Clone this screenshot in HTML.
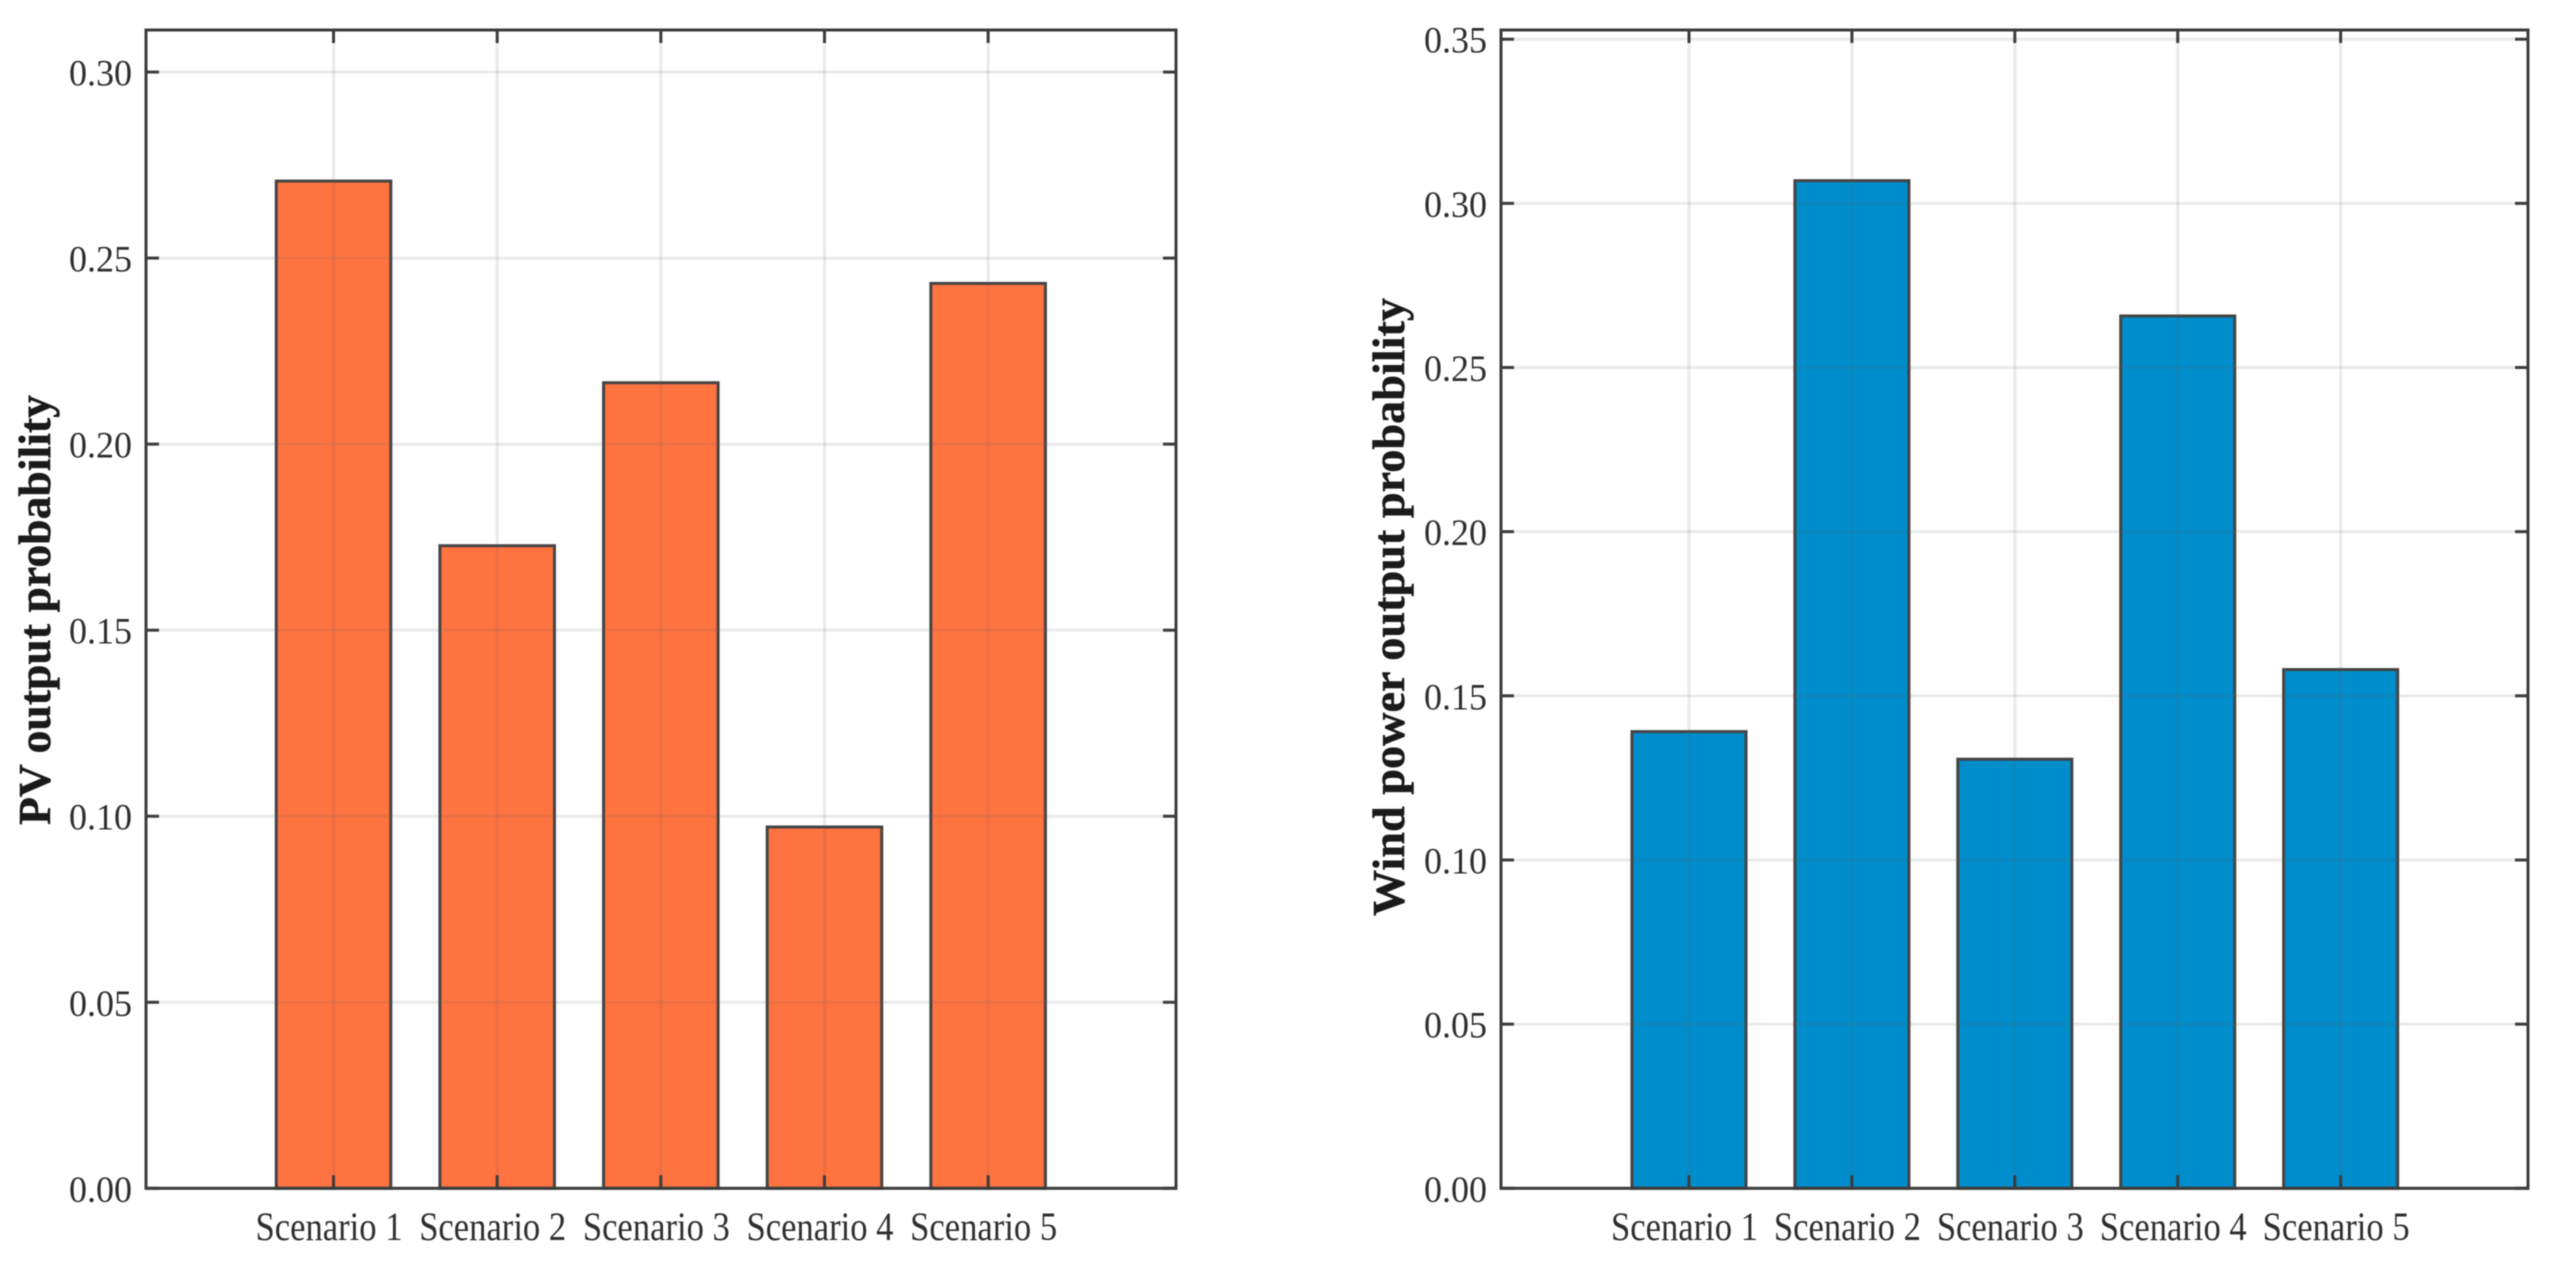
<!DOCTYPE html>
<html lang="en">
<head>
<meta charset="utf-8">
<title>PV and wind power output probability</title>
<style>
  html, body { margin: 0; padding: 0; background: #fff; }
  body { width: 2555px; height: 1265px; overflow: hidden; }
  svg { display: block; filter: blur(0.6px); }
  text { font-family: "Liberation Serif", "Times New Roman", serif; fill: #2e2e2e; }
</style>
</head>
<body>
<svg id="figure" xmlns="http://www.w3.org/2000/svg" width="2555" height="1265" viewBox="0 0 2555 1265"></svg>
<script>
const categories = ['Scenario 1', 'Scenario 2', 'Scenario 3', 'Scenario 4', 'Scenario 5'];
const pvValues = [0.2707, 0.1727, 0.2165, 0.0971, 0.2432];
const windValues = [0.1391, 0.3069, 0.1307, 0.2657, 0.1580];
const pvTicks = [0, 0.05, 0.10, 0.15, 0.20, 0.25, 0.30];
const windTicks = [0, 0.05, 0.10, 0.15, 0.20, 0.25, 0.30, 0.35];
const pvTickLabels = ['0.00', '0.05', '0.10', '0.15', '0.20', '0.25', '0.30'];
const windTickLabels = ['0.00', '0.05', '0.10', '0.15', '0.20', '0.25', '0.30', '0.35'];

const NS = 'http://www.w3.org/2000/svg';
const svg = document.getElementById('figure');
const gridStroke = 'rgba(90,90,90,0.13)';

function mk(tag, attrs, parent) {
  const el = document.createElementNS(NS, tag);
  for (const k in attrs) el.setAttribute(k, attrs[k]);
  parent.appendChild(el);
  return el;
}

function drawChart(o) {
  const g = mk('g', {}, svg);
  
  

  const xPos = function (v) { return o.left + (v - o.xMin) / (o.xMax - o.xMin) * (o.right - o.left); };
  const yPos = function (v) { return o.bottom - v / o.yMax * (o.bottom - o.top); };

  // bars
  o.values.forEach(function (v, i) {
    const cx = xPos(i + 1);
    const w = xPos(1.7) - xPos(1);
    const bar = mk('rect', { x: cx - w / 2, y: yPos(v), width: w, height: yPos(0) - yPos(v), fill: o.color, stroke: '#444', 'stroke-width': 3 }, g);
    
    
  });

  // grid lines (semi-transparent, drawn over bars)
  o.ticks.forEach(function (t) {
    const line = mk('line', { x1: o.left, x2: o.right, y1: yPos(t), y2: yPos(t), stroke: gridStroke, 'stroke-width': 3 }, g);
    
    
  });
  categories.forEach(function (c, i) {
    const line = mk('line', { x1: xPos(i + 1), x2: xPos(i + 1), y1: o.top, y2: o.bottom, stroke: gridStroke, 'stroke-width': 3 }, g);
    
    
  });

  // axes box
  const box = mk('rect', { x: o.left, y: o.top, width: o.right - o.left, height: o.bottom - o.top, fill: 'none', stroke: '#3c3c3c', 'stroke-width': 3 }, g);
  
  

  // y ticks and labels
  o.ticks.forEach(function (t, i) {
    const y = yPos(t);
    const tl = mk('line', { x1: o.left, x2: o.left + 13, y1: y, y2: y, stroke: '#3c3c3c', 'stroke-width': 3 }, g);
    
    
    const tr = mk('line', { x1: o.right, x2: o.right - 13, y1: y, y2: y, stroke: '#3c3c3c', 'stroke-width': 3 }, g);
    
    
    const label = mk('text', { x: o.left - 14, y: y + 13.5, 'font-size': 37, 'text-anchor': 'end', textLength: 63, lengthAdjust: 'spacingAndGlyphs' }, g);
    
    
    label.textContent = o.tickLabels[i];
  });

  // x ticks and labels
  categories.forEach(function (c, i) {
    const x = xPos(i + 1);
    const tb = mk('line', { x1: x, x2: x, y1: o.bottom, y2: o.bottom - 13, stroke: '#3c3c3c', 'stroke-width': 3 }, g);
    
    
    const tt = mk('line', { x1: x, x2: x, y1: o.top, y2: o.top + 13, stroke: '#3c3c3c', 'stroke-width': 3 }, g);
    
    
    const label = mk('text', { x: x - 4.5, y: 1240, 'font-size': 40, 'text-anchor': 'middle', textLength: 147, lengthAdjust: 'spacingAndGlyphs' }, g);
    
    
    label.textContent = c;
  });

  // y axis title
  const title = mk('text', {
    transform: 'translate(' + o.titleX + ',' + o.titleY + ') rotate(-90)',
    x: 0, y: 0, 'font-size': 46, 'font-weight': 'bold', 'text-anchor': 'middle',
    textLength: o.titleLen, lengthAdjust: 'spacingAndGlyphs',
    style: 'fill:#1a1a1a;stroke:#1a1a1a;stroke-width:0.5px'
  }, g);
  
  
  title.textContent = o.title;
}

drawChart({
  key: 'pv', color: '#FF7340', values: pvValues, ticks: pvTicks, tickLabels: pvTickLabels,
  left: 146, right: 1176, top: 30, bottom: 1188.3,
  xMin: -0.146, xMax: 6.148, yMax: 0.3113,
  title: 'PV output probability', titleX: 50, titleY: 610, titleLen: 430
});
drawChart({
  key: 'wind', color: '#008DCC', values: windValues, ticks: windTicks, tickLabels: windTickLabels,
  left: 1501, right: 2528, top: 30, bottom: 1188.3,
  xMin: -0.154, xMax: 6.15, yMax: 0.3528,
  title: 'Wind power output probability', titleX: 1404, titleY: 607, titleLen: 618
});
</script>
</body>
</html>
